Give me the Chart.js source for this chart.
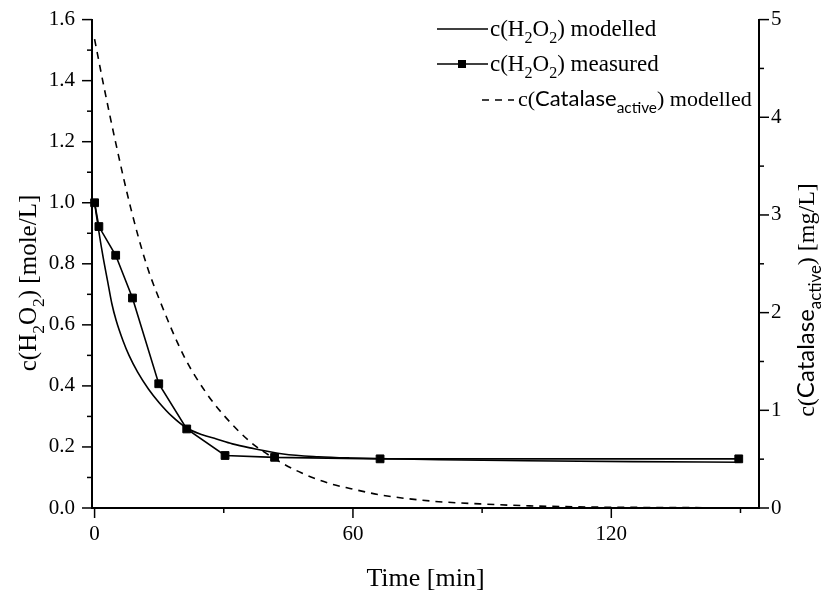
<!DOCTYPE html>
<html>
<head>
<meta charset="utf-8">
<script src="https://cdn.jsdelivr.net/npm/chart.js@4.4.0/dist/chart.umd.min.js"></script>
<style>
  html, body { margin: 0; padding: 0; background: #fff; }
  #wrap { width: 825px; height: 594px; }
</style>
</head>
<body>
<div id="wrap"><canvas id="kinetics" width="825" height="594"></canvas></div>
<script>
// data
var measuredTime = [0, 1, 4.9, 8.8, 14.9, 21.4, 30.3, 41.8, 66.3, 149.6];
var measuredH2O2 = [1.0, 0.922, 0.828, 0.688, 0.407, 0.259, 0.172, 0.166, 0.161, 0.161];

var modelTime = [0, 1, 2, 3, 4, 5, 6.6, 8, 10, 12.5, 15, 18, 21.4, 25, 28.3, 32, 36.1, 43.8, 52, 59.3, 80, 100, 125, 150];
var modelH2O2 = [1.0, 0.905, 0.82, 0.745, 0.67, 0.615, 0.548, 0.50, 0.445, 0.39, 0.345, 0.30, 0.262, 0.240, 0.226, 0.210, 0.197, 0.177, 0.168, 0.164, 0.158, 0.155, 0.152, 0.150];

var catTime = [0, 2, 5, 8.4, 12, 15, 20.8, 25.9, 30, 36.1, 42, 48, 54.7, 59.3, 66.3, 77.9, 89.5, 101, 115, 130, 150];
var catActive = [4.80, 4.35, 3.72, 3.07, 2.50, 2.14, 1.55, 1.18, 0.95, 0.68, 0.50, 0.36, 0.25, 0.20, 0.135, 0.072, 0.042, 0.022, 0.010, 0.005, 0.002];

var xMajor = [0, 60, 120];
var xMinor = [30, 90, 150];
var yMajor = [0, 0.2, 0.4, 0.6, 0.8, 1.0, 1.2, 1.4, 1.6];
var yMinor = [0.1, 0.3, 0.5, 0.7, 0.9, 1.1, 1.3, 1.5];
var y2Major = [0, 1, 2, 3, 4, 5];
var y2Minor = [0.5, 1.5, 2.5, 3.5, 4.5];

var SERIF = "'Liberation Serif', serif";
var SANS = "Lato, sans-serif";

function pairs(xs, ys) {
  return xs.map(function(x, i) { return {x: x, y: ys[i]}; });
}

function partFont(p, size) {
  var s = p.sub ? size * 0.7 : size;
  return s + 'px ' + (p.sans ? SANS : SERIF);
}
function richWidth(ctx, parts, size) {
  var w = 0;
  parts.forEach(function(p) {
    ctx.font = partFont(p, size);
    w += ctx.measureText(p.t).width;
  });
  return w;
}
function drawRich(ctx, parts, x, y, size, align) {
  var cx = align === 'center' ? x - richWidth(ctx, parts, size) / 2 : x;
  ctx.textAlign = 'left';
  ctx.textBaseline = 'alphabetic';
  ctx.fillStyle = '#000';
  parts.forEach(function(p) {
    ctx.font = partFont(p, size);
    ctx.fillText(p.t, cx, y + (p.sub ? size * 0.3 : 0));
    cx += ctx.measureText(p.t).width;
  });
}

var h2o2 = [{t: 'c(H'}, {t: '2', sub: 1}, {t: 'O'}, {t: '2', sub: 1}, {t: ')'}];
var catalase = [{t: 'c('}, {t: 'Catalase', sans: 1}, {t: 'active', sans: 1, sub: 1}, {t: ')'}];

var decorations = {
  id: 'decorations',
  afterDraw: function(chart) {
    var ctx = chart.ctx;
    var a = chart.chartArea;
    var sx = chart.scales.x, sy = chart.scales.y, sy2 = chart.scales.y2;
    ctx.save();
    ctx.strokeStyle = '#000';
    ctx.lineWidth = 1.5;
    function tick(x1, y1, x2, y2) {
      ctx.beginPath(); ctx.moveTo(x1, y1); ctx.lineTo(x2, y2); ctx.stroke();
    }
    xMajor.forEach(function(v) { var p = sx.getPixelForValue(v); tick(p, a.bottom, p, a.bottom + 10); });
    xMinor.forEach(function(v) { var p = sx.getPixelForValue(v); tick(p, a.bottom, p, a.bottom + 5); });
    yMajor.forEach(function(v) { var p = sy.getPixelForValue(v); tick(a.left, p, a.left - 10, p); });
    yMinor.forEach(function(v) { var p = sy.getPixelForValue(v); tick(a.left, p, a.left - 5, p); });
    y2Major.forEach(function(v) { var p = sy2.getPixelForValue(v); tick(a.right, p, a.right + 10, p); });
    y2Minor.forEach(function(v) { var p = sy2.getPixelForValue(v); tick(a.right, p, a.right + 5, p); });

    // axis titles
    drawRich(ctx, [{t: 'Time [min]'}], (a.left + a.right) / 2, 586, 26, 'center');
    ctx.save();
    ctx.translate(36, 283);
    ctx.rotate(-Math.PI / 2);
    drawRich(ctx, h2o2.concat([{t: ' [mole/L]'}]), 0, 0, 25, 'center');
    ctx.restore();
    ctx.save();
    ctx.translate(814, 300);
    ctx.rotate(-Math.PI / 2);
    drawRich(ctx, catalase.concat([{t: ' [mg/L]'}]), 0, 0, 24, 'center');
    ctx.restore();

    // legend
    var ds = chart.data.datasets;
    ctx.lineWidth = 1.6;
    ctx.setLineDash([]);
    tick(437, 29, 488, 29);
    drawRich(ctx, h2o2.concat([{t: ' modelled'}]), 490, 36, 23);
    tick(437, 64, 488, 64);
    ctx.fillStyle = '#000';
    ctx.fillRect(458, 60, 8, 8);
    drawRich(ctx, h2o2.concat([{t: ' measured'}]), 490, 71, 23);
    ctx.setLineDash(ds[0].borderDash);
    tick(482, 100, 514, 100);
    ctx.setLineDash([]);
    drawRich(ctx, catalase.concat([{t: ' modelled'}]), 518, 106, 22);
    ctx.restore();
  }
};

var tickFont = {family: SERIF, size: 21};

new Chart(document.getElementById('kinetics').getContext('2d'), {
  type: 'line',
  data: {
    datasets: [
      {
        label: 'c(Catalase active) modelled',
        data: pairs(catTime, catActive),
        yAxisID: 'y2',
        borderColor: '#000',
        borderWidth: 1.6,
        borderDash: [7, 6],
        pointRadius: 0,
        cubicInterpolationMode: 'monotone',
        fill: false,
      },
      {
        label: 'c(H2O2) modelled',
        data: pairs(modelTime, modelH2O2),
        yAxisID: 'y',
        borderColor: '#000',
        borderWidth: 1.6,
        pointRadius: 0,
        cubicInterpolationMode: 'monotone',
        fill: false,
      },
      {
        label: 'c(H2O2) measured',
        data: pairs(measuredTime, measuredH2O2),
        yAxisID: 'y',
        borderColor: '#000',
        backgroundColor: '#000',
        borderWidth: 1.6,
        tension: 0,
        pointStyle: 'rect',
        pointRadius: 5.5,
        pointBorderWidth: 1,
        pointBackgroundColor: '#000',
        clip: false,
        fill: false,
      },
    ]
  },
  options: {
    responsive: false,
    animation: false,
    events: [],
    layout: {padding: {top: 15, left: 0, right: 0, bottom: 0}},
    plugins: {legend: {display: false}, tooltip: {enabled: false}},
    scales: {
      x: {
        type: 'linear',
        min: -0.6,
        max: 154.3,
        afterBuildTicks: function(s) { s.ticks = xMajor.map(function(v) { return {value: v}; }); },
        afterFit: function(s) { s.height = 86; },
        grid: {drawOnChartArea: false, color: 'rgba(0,0,0,0)', tickLength: 10},
        border: {display: true, color: '#000', width: 2},
        ticks: {font: tickFont, color: '#000', padding: 4, maxRotation: 0},
      },
      y: {
        position: 'left',
        min: 0,
        max: 1.6,
        afterBuildTicks: function(s) { s.ticks = yMajor.map(function(v) { return {value: v}; }); },
        afterFit: function(s) { s.width = 92; },
        grid: {drawOnChartArea: false, color: 'rgba(0,0,0,0)', tickLength: 10},
        border: {display: true, color: '#000', width: 2},
        ticks: {font: tickFont, color: '#000', padding: 7, callback: function(v) { return v.toFixed(1); }},
      },
      y2: {
        position: 'right',
        min: 0,
        max: 5,
        afterBuildTicks: function(s) { s.ticks = y2Major.map(function(v) { return {value: v}; }); },
        afterFit: function(s) { s.width = 66; },
        grid: {drawOnChartArea: false, color: 'rgba(0,0,0,0)', tickLength: 10},
        border: {display: true, color: '#000', width: 2},
        ticks: {font: tickFont, color: '#000', padding: 2},
      },
    }
  },
  plugins: [decorations]
});
</script>
</body>
</html>
